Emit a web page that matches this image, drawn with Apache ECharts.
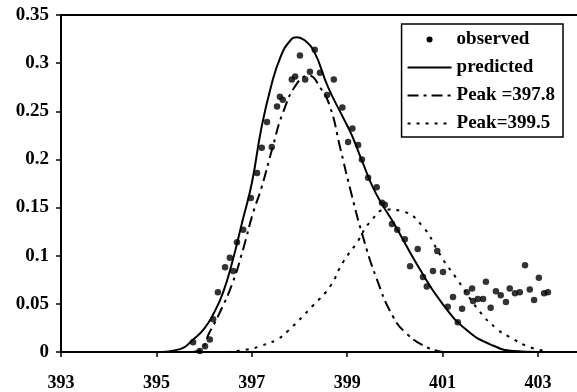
<!DOCTYPE html>
<html lang="en">

<head>
  <meta charset="UTF-8">
  <title>Peak fit</title>
  <style>
    body { margin: 0; background: #fff; }
    #chart { width: 577px; height: 392px; }
  </style>
</head>

<body>
  <div id="chart"></div>
</body>
<script src="https://cdn.jsdelivr.net/npm/echarts@6/dist/echarts.min.js"></script>
<script>
  // tick labels
  var xTicks = [393, 395, 397, 399, 401, 403]

  // observed points
  var observedX = [395.77, 395.91, 396.02, 396.12, 396.19, 396.29, 396.44, 396.54, 396.61, 396.69,
    396.82, 396.98, 397.11, 397.21, 397.32, 397.42, 397.53, 397.59, 397.65, 397.84,
    397.91, 398.01, 398.12, 398.22, 398.32, 398.43, 398.58, 398.72, 398.90, 399.02,
    399.11, 399.23, 399.31, 399.44, 399.62, 399.73, 399.79, 399.94, 400.05, 400.21,
    400.32, 400.48, 400.59, 400.67, 400.80, 400.89, 401.01, 401.11, 401.22, 401.32,
    401.41, 401.51, 401.62, 401.64, 401.74, 401.85, 401.91, 402.01, 402.12, 402.22,
    402.33, 402.41, 402.52, 402.62, 402.73, 402.83, 402.92, 403.02, 403.13, 403.21]
  var observedY = [0.010, 0.001, 0.006, 0.013, 0.034, 0.062, 0.088, 0.098, 0.084, 0.114,
    0.127, 0.160, 0.186, 0.212, 0.239, 0.213, 0.255, 0.265, 0.262, 0.283,
    0.286, 0.308, 0.283, 0.291, 0.314, 0.290, 0.267, 0.283, 0.254, 0.218,
    0.232, 0.215, 0.200, 0.181, 0.171, 0.155, 0.153, 0.133, 0.127, 0.117,
    0.089, 0.107, 0.078, 0.068, 0.084, 0.105, 0.083, 0.047, 0.057, 0.031,
    0.045, 0.062, 0.066, 0.053, 0.055, 0.055, 0.073, 0.046, 0.063, 0.059,
    0.052, 0.066, 0.061, 0.062, 0.090, 0.065, 0.054, 0.077, 0.061, 0.062]

  // predicted curve
  var predictedX = [395.0, 395.5, 395.77, 396.0, 396.2, 396.4, 396.6, 396.8, 397.0, 397.2,
    397.4, 397.6, 397.8, 397.95, 398.1, 398.3, 398.6, 398.9, 399.1, 399.3,
    399.6, 400.0, 400.5, 401.0, 401.5, 402.0, 402.5, 403.0]
  var predictedY = [0.000, 0.003, 0.013, 0.024, 0.040, 0.062, 0.095, 0.135, 0.175, 0.232,
    0.275, 0.306, 0.323, 0.327, 0.324, 0.313, 0.275, 0.245, 0.225, 0.200,
    0.165, 0.132, 0.088, 0.050, 0.023, 0.008, 0.001, 0.000]

  // first component
  var peak1X = [395.7, 395.91, 396.12, 396.33, 396.6, 396.82, 397.03, 397.2, 397.44, 397.65,
    397.95, 398.2, 398.43, 398.64, 398.85, 399.06, 399.33, 399.62, 399.96, 400.25,
    400.67, 401.0]
  var peak1Y = [0.000, 0.002, 0.021, 0.041, 0.072, 0.107, 0.145, 0.170, 0.213, 0.248,
    0.279, 0.287, 0.275, 0.255, 0.213, 0.170, 0.120, 0.076, 0.037, 0.019,
    0.005, 0.000]

  // second component
  var peak2X = [396.5, 396.96, 397.17, 397.53, 397.74, 398.28, 398.64, 398.91, 399.21, 399.48,
    399.83, 400.17, 400.59, 400.88, 401.01, 401.30, 401.78, 402.14, 402.41, 402.83, 403.2]
  var peak2Y = [0.000, 0.003, 0.006, 0.013, 0.021, 0.048, 0.068, 0.093, 0.114, 0.135,
    0.148, 0.146, 0.130, 0.107, 0.096, 0.076, 0.042, 0.024, 0.0155, 0.005, 0.001]

  function pairs(xs, ys) {
    var out = []
    for (var i = 0; i < xs.length; i++) out.push([xs[i], ys[i]])
    return out
  }

  var font = 'Liberation Serif'
  var myChart = echarts.init(document.getElementById('chart'))
  var option = {
    animation: false,
    backgroundColor: '#fff',
    grid: { left: 61, right: 0, top: 15, bottom: 39 },
    legend: {
      orient: 'vertical',
      right: 14,
      top: 24,
      itemWidth: 44,
      itemHeight: 6,
      itemGap: 9,
      padding: [6, 8, 4, 5],
      borderColor: '#000',
      borderWidth: 1.5,
      backgroundColor: '#fff',
      selectedMode: false,
      // hide the symbol drawn in the middle of line icons
      itemStyle: { opacity: 0 },
      textStyle: { fontFamily: font, fontWeight: 'bold', fontSize: 19, color: '#000' },
      data: [
        { name: 'observed', icon: 'circle', itemStyle: { opacity: 1, color: '#000' } },
        'predicted', 'Peak =397.8', 'Peak=399.5'
      ]
    },
    xAxis: [{
      type: 'value',
      min: 393,
      max: 403.82,
      splitLine: { show: false },
      axisLine: { lineStyle: { color: '#000', width: 2 } },
      axisTick: { customValues: xTicks, length: 5, lineStyle: { color: '#000', width: 1.5 } },
      axisLabel: {
        customValues: xTicks, margin: 22, color: '#000',
        fontFamily: font, fontWeight: 'bold', fontSize: 18
      }
    }, {
      type: 'value',
      position: 'top',
      min: 393,
      max: 403.82,
      splitLine: { show: false },
      axisTick: { show: false },
      axisLabel: { show: false },
      axisLine: { lineStyle: { color: '#000', width: 2 } }
    }],
    yAxis: {
      type: 'value',
      min: 0,
      max: 0.35,
      interval: 0.05,
      splitLine: { show: false },
      axisLine: { show: true, lineStyle: { color: '#000', width: 2 } },
      axisTick: { show: true, length: 5, lineStyle: { color: '#000', width: 1.5 } },
      axisLabel: { margin: 12, color: '#000', fontFamily: font, fontWeight: 'bold', fontSize: 19 }
    },
    series: [
      {
        name: 'observed',
        type: 'scatter',
        symbol: 'circle',
        symbolSize: 6.5,
        itemStyle: { color: '#000' },
        data: pairs(observedX, observedY),
        z: 5
      },
      {
        name: 'predicted',
        type: 'line',
        smooth: true,
        showSymbol: false,
        symbol: 'none',
        itemStyle: { color: '#000' },
        lineStyle: { color: '#000', width: 2 },
        data: pairs(predictedX, predictedY)
      },
      {
        name: 'Peak =397.8',
        type: 'line',
        smooth: true,
        showSymbol: false,
        symbol: 'none',
        itemStyle: { color: '#000' },
        lineStyle: { color: '#000', width: 2, type: [11, 5, 3, 5] },
        data: pairs(peak1X, peak1Y)
      },
      {
        name: 'Peak=399.5',
        type: 'line',
        smooth: true,
        showSymbol: false,
        symbol: 'none',
        itemStyle: { color: '#000' },
        lineStyle: { color: '#000', width: 2, type: [3, 6] },
        data: pairs(peak2X, peak2Y)
      }
    ]
  }
  myChart.setOption(option)
</script>

</html>
